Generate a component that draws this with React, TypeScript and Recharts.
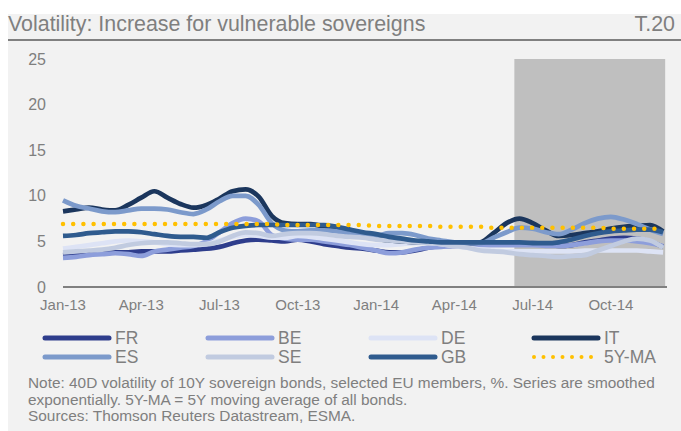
import React from 'react';
import { LineChart, Line, XAxis, YAxis, ReferenceArea } from 'recharts';

const FONT = '"Liberation Sans", Arial, sans-serif';
const GREY_TEXT = '#7f7f7f';

// x is measured in months from Jan-13, sampled every half month
const STEP = 0.5;
const monthTicks = [0, 3, 6, 9, 12, 15, 18, 21];
const tickLabels = ['Jan-13', 'Apr-13', 'Jul-13', 'Oct-13', 'Jan-14', 'Apr-14', 'Jul-14', 'Oct-14'];
const yTicks = [0, 5, 10, 15, 20, 25];
const shadeFrom = 17.3;
const shadeTo = 23.08;

const fr = [3.5, 3.6, 3.7, 3.7, 3.8, 3.8, 3.9, 3.9, 3.9, 4.0, 4.1, 4.2, 4.4, 4.8, 5.1, 5.2, 5.1, 5.0, 5.2, 5.0, 4.7, 4.5, 4.3, 4.2, 4.0, 3.8, 3.8, 4.0, 4.3, 4.5, 4.5, 4.6, 4.7, 4.9, 4.9, 4.8, 4.8, 4.7, 4.5, 4.6, 4.9, 5.1, 5.3, 5.4, 5.3, 5.0, 4.4];
const be = [3.2, 3.3, 3.5, 3.6, 3.7, 3.6, 3.4, 3.9, 4.1, 4.3, 4.5, 5.0, 6.0, 7.0, 7.5, 7.2, 5.7, 5.3, 5.2, 5.2, 5.0, 4.8, 4.6, 4.3, 4.0, 3.7, 3.8, 4.1, 4.3, 4.4, 4.5, 4.5, 4.6, 4.6, 4.6, 4.6, 4.6, 4.5, 4.5, 4.6, 4.8, 5.0, 5.1, 5.1, 5.0, 4.8, 4.5];
const de = [4.2, 4.4, 4.6, 4.8, 5.0, 5.1, 5.0, 4.9, 4.7, 4.6, 4.6, 4.7, 5.1, 5.5, 5.7, 5.6, 5.4, 5.4, 5.6, 5.5, 5.3, 5.1, 4.9, 4.7, 4.6, 4.6, 4.7, 4.8, 4.8, 4.7, 4.5, 4.3, 4.1, 4.0, 3.9, 3.9, 3.9, 3.9, 3.9, 3.9, 4.0, 4.0, 4.0, 4.0, 4.0, 3.9, 3.8];
const it = [8.3, 8.5, 8.7, 8.5, 8.4, 9.0, 9.8, 10.5, 9.8, 9.1, 8.7, 9.0, 9.7, 10.5, 10.7, 9.9, 7.8, 7.0, 6.9, 6.9, 6.6, 6.2, 5.8, 5.5, 5.3, 5.1, 5.0, 4.9, 4.9, 4.8, 4.8, 4.8, 4.9, 5.9, 7.0, 7.5, 7.0, 6.2, 5.6, 5.7, 5.9, 6.1, 6.4, 6.6, 6.7, 6.8, 6.1];
const es = [9.5, 8.9, 8.6, 8.3, 8.2, 8.4, 8.6, 8.6, 8.5, 8.2, 8.0, 8.5, 9.4, 10.0, 10.0, 9.0, 7.0, 6.2, 6.1, 6.2, 6.2, 6.1, 5.9, 5.6, 5.6, 5.9, 5.9, 5.7, 5.3, 5.1, 4.9, 4.8, 4.8, 5.4, 6.0, 6.5, 6.4, 6.0, 5.8, 6.3, 7.0, 7.5, 7.7, 7.4, 6.9, 6.3, 5.8];
const se = [3.8, 3.9, 4.0, 4.1, 4.3, 4.6, 4.8, 4.9, 4.9, 4.8, 4.7, 4.7, 5.0, 5.6, 6.0, 5.9, 5.6, 5.8, 5.9, 5.9, 5.8, 5.6, 5.5, 5.4, 5.2, 5.1, 5.0, 4.9, 4.8, 4.7, 4.5, 4.3, 4.0, 3.9, 3.8, 3.6, 3.5, 3.4, 3.3, 3.4, 3.5, 4.0, 4.5, 5.0, 5.3, 5.1, 4.3];
const gb = [5.6, 5.7, 5.9, 6.0, 6.1, 6.1, 6.0, 5.8, 5.6, 5.5, 5.5, 5.4, 6.0, 6.5, 6.7, 6.8, 6.8, 6.8, 6.8, 6.8, 6.8, 6.6, 6.3, 6.0, 5.8, 5.5, 5.3, 5.1, 5.0, 4.9, 4.9, 4.9, 4.9, 4.9, 4.9, 4.9, 4.8, 4.8, 4.9, 5.2, 5.6, 5.9, 6.1, 6.2, 6.3, 6.3, 6.0];
const ma5y = [6.9, 6.9, 6.9, 6.9, 6.9, 6.9, 6.9, 6.9, 6.9, 6.9, 6.9, 6.9, 6.9, 6.9, 6.9, 6.9, 6.9, 6.8, 6.8, 6.8, 6.8, 6.8, 6.8, 6.8, 6.7, 6.7, 6.7, 6.7, 6.7, 6.6, 6.6, 6.6, 6.6, 6.5, 6.5, 6.5, 6.5, 6.5, 6.5, 6.5, 6.5, 6.5, 6.4, 6.4, 6.4, 6.4, 6.4];

const series = [
  { key: 'FR', color: '#2e3d8c', values: fr },
  { key: 'BE', color: '#8d9edb', values: be },
  { key: 'DE', color: '#dde3f5', values: de },
  { key: 'IT', color: '#1b365d', values: it },
  { key: 'ES', color: '#7c9acb', values: es },
  { key: 'SE', color: '#c1cbe0', values: se },
  { key: 'GB', color: '#2f5b8e', values: gb },
];
const MA_COLOR = '#ffc000';

const data = fr.map((_, i) => {
  const row: Record<string, number> = { t: i * STEP, MA: ma5y[i] };
  series.forEach((s) => {
    row[s.key] = s.values[i];
  });
  return row;
});

const legendItems = [
  ...series.map((s) => ({ label: s.key, color: s.color, dotted: false })),
  { label: '5Y-MA', color: MA_COLOR, dotted: true },
];

const LegendBlock = () => (
  <div style={{ position: 'absolute', left: 34, top: 314, width: 640 }}>
    {legendItems.map((item, i) => {
      const col = i % 4;
      const row = Math.floor(i / 4);
      return (
        <div
          key={item.label}
          style={{ position: 'absolute', left: col * 163, top: row * 19, display: 'flex', alignItems: 'center', height: 20 }}
        >
          <svg width={70} height={10}>
            <line
              x1={3}
              y1={5}
              x2={67}
              y2={5}
              stroke={item.color}
              strokeWidth={item.dotted ? 4 : 5}
              strokeLinecap="round"
              strokeDasharray={item.dotted ? '0 9.5' : undefined}
            />
          </svg>
          <span style={{ marginLeft: 3, fontSize: 17.5, color: GREY_TEXT, fontFamily: FONT, lineHeight: '20px' }}>{item.label}</span>
        </div>
      );
    })}
  </div>
);

export default function App() {
  return (
    <div style={{ position: 'relative', width: 681, height: 431, overflow: 'hidden', background: '#fff' }}>
      <style>{'body{margin:0;overflow:hidden}'}</style>
      <div style={{ position: 'absolute', left: 8, top: 14, width: 673, height: 417, background: '#f2f2f2', fontFamily: FONT }}>
        <div style={{ position: 'absolute', left: 0, top: -2, fontSize: 21.4, lineHeight: 1.15, color: GREY_TEXT, whiteSpace: 'nowrap' }}>
          Volatility: Increase for vulnerable sovereigns
        </div>
        <div style={{ position: 'absolute', right: 6, top: -2, fontSize: 21.4, lineHeight: 1.15, color: GREY_TEXT }}>T.20</div>
        <div style={{ position: 'absolute', left: 0, top: 25, width: 673, height: 2, background: '#808080' }} />

        <div style={{ position: 'absolute', left: 0, top: 0 }}>
          <LineChart width={673} height={300} data={data} margin={{ top: 45, right: 14, left: 15, bottom: 0 }}>
            <ReferenceArea x1={shadeFrom} x2={shadeTo} y1={0} y2={25} fill="#bfbfbf" fillOpacity={1} stroke="none" />
            <XAxis
              dataKey="t"
              type="number"
              domain={[0, 23.15]}
              ticks={monthTicks}
              tickFormatter={(v: number) => tickLabels[monthTicks.indexOf(v)]}
              tick={{ fill: GREY_TEXT, fontSize: 15, fontFamily: FONT }}
              tickLine={false}
              tickSize={0}
              tickMargin={12}
              axisLine={{ stroke: '#808080', strokeWidth: 2 }}
              height={27}
              interval={0}
            />
            <YAxis
              type="number"
              domain={[0, 25]}
              ticks={yTicks}
              tick={{ fill: GREY_TEXT, fontSize: 16, fontFamily: FONT }}
              tickLine={false}
              tickSize={0}
              tickMargin={17}
              axisLine={false}
              width={40}
              interval={0}
            />
            {series.map((s) => (
              <Line
                key={s.key}
                type="monotone"
                dataKey={s.key}
                stroke={s.color}
                strokeWidth={4.7}
                dot={false}
                activeDot={false}
                isAnimationActive={false}
              />
            ))}
            <Line
              type="monotone"
              dataKey="MA"
              stroke={MA_COLOR}
              strokeWidth={4.5}
              strokeDasharray="0 10.2"
              strokeLinecap="round"
              dot={false}
              activeDot={false}
              isAnimationActive={false}
            />
          </LineChart>
        </div>

        <LegendBlock />

        <div style={{ position: 'absolute', left: 20, top: 361, fontSize: 15.4, lineHeight: '16.5px', color: GREY_TEXT, whiteSpace: 'nowrap' }}>
          <div>Note: 40D volatility of 10Y sovereign bonds, selected EU members, %. Series are smoothed</div>
          <div>exponentially. 5Y-MA = 5Y moving average of all bonds.</div>
          <div>Sources: Thomson Reuters Datastream, ESMA.</div>
        </div>
      </div>
    </div>
  );
}
